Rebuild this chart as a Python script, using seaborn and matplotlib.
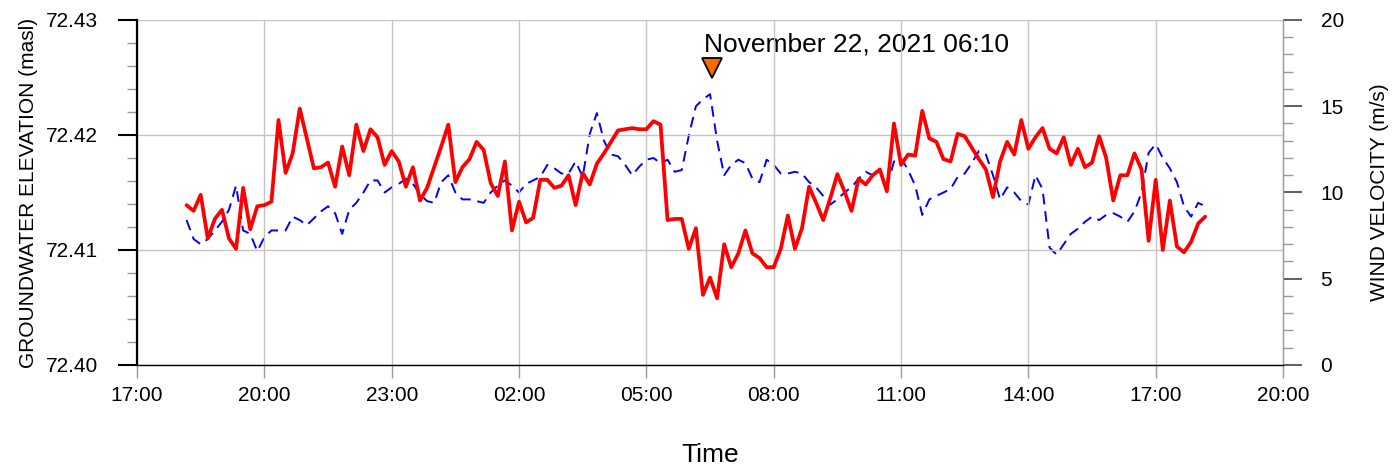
import numpy as np
import pandas as pd
import matplotlib
matplotlib.use("Agg")
import matplotlib.pyplot as plt
import matplotlib.dates as mdates
import seaborn as sns
from matplotlib.ticker import MultipleLocator, FormatStrFormatter

# 10-minute readings, Nov 21 18:10 -> Nov 22 18:10
times = pd.date_range("2021-11-21 18:10", periods=145, freq="10min")

groundwater = [
    72.4139, 72.4134, 72.4148, 72.4110, 72.4127, 72.4135, 72.4110, 72.4101, 72.4154, 72.4118, 72.4138, 72.4139,
    72.4142, 72.4213, 72.4167, 72.4184, 72.4223, 72.4197, 72.4171, 72.4172, 72.4176, 72.4155, 72.4190, 72.4165,
    72.4209, 72.4186, 72.4205, 72.4198, 72.4174, 72.4186, 72.4177, 72.4155, 72.4172, 72.4143, 72.4154, 72.4172,
    72.4190, 72.4209, 72.4159, 72.4172, 72.4179, 72.4194, 72.4187, 72.4158, 72.4147, 72.4177, 72.4117, 72.4142,
    72.4124, 72.4128, 72.4161, 72.4161, 72.4154, 72.4156, 72.4165, 72.4139, 72.4167, 72.4157, 72.4175, 72.4184,
    72.4194, 72.4204, 72.4205, 72.4206, 72.4205, 72.4205, 72.4212, 72.4209, 72.4126, 72.4127, 72.4127, 72.4101,
    72.4119, 72.4061, 72.4076, 72.4058, 72.4105, 72.4085, 72.4097, 72.4117, 72.4097, 72.4093, 72.4085, 72.4085,
    72.4101, 72.4130, 72.4101, 72.4119, 72.4155, 72.4141, 72.4126, 72.4145, 72.4166, 72.4151, 72.4134, 72.4162,
    72.4157, 72.4165, 72.4170, 72.4151, 72.4210, 72.4174, 72.4183, 72.4182, 72.4221, 72.4197, 72.4194, 72.4179,
    72.4177, 72.4201, 72.4199, 72.4189, 72.4179, 72.4170, 72.4146, 72.4177, 72.4194, 72.4183, 72.4213, 72.4188,
    72.4198, 72.4206, 72.4188, 72.4184, 72.4198, 72.4174, 72.4188, 72.4172, 72.4176, 72.4199, 72.4180, 72.4143,
    72.4165, 72.4165, 72.4184, 72.4170, 72.4108, 72.4161, 72.4100, 72.4143, 72.4103, 72.4098, 72.4107, 72.4123,
    72.4129,
]

wind = [
    8.4, 7.3, 7.0, 7.3, 7.8, 8.3, 9.0, 10.4, 7.8, 7.6, 6.6, 7.4,
    7.8, 7.8, 7.8, 8.6, 8.4, 8.1, 8.5, 8.9, 9.2, 8.8, 7.6, 9.0,
    9.4, 10.0, 10.7, 10.7, 10.0, 10.3, 10.5, 10.8, 10.5, 9.9, 9.5, 9.4,
    10.6, 11.0, 10.0, 9.6, 9.6, 9.5, 9.4, 10.0, 10.4, 10.7, 10.4, 10.0,
    10.5, 10.7, 10.9, 11.6, 11.4, 11.1, 11.1, 11.8, 10.9, 13.4, 14.6, 13.0,
    12.2, 12.1, 11.6, 11.0, 11.5, 11.9, 12.0, 11.7, 11.9, 11.2, 11.3, 13.3,
    15.0, 15.4, 15.7, 13.0, 11.0, 11.6, 11.9, 11.7, 10.8, 10.6, 11.9, 11.6,
    11.1, 11.1, 11.2, 11.1, 10.6, 10.3, 9.8, 9.3, 9.6, 10.0, 10.3, 10.8,
    11.2, 11.0, 11.3, 10.3, 11.8, 12.0, 11.3, 10.4, 8.7, 9.6, 9.8, 10.0,
    10.2, 10.9, 11.1, 11.7, 12.4, 12.2, 11.0, 9.6, 10.3, 10.0, 9.5, 9.3,
    11.0, 10.2, 6.8, 6.4, 7.0, 7.6, 7.9, 8.3, 8.6, 8.4, 8.7, 8.8,
    8.6, 8.3, 8.9, 10.0, 12.3, 12.8, 12.0, 11.4, 10.6, 9.2, 8.6, 9.4,
    9.2,
]

event_time = pd.Timestamp("2021-11-22 06:33")
event_label = "November 22, 2021 06:10"

sns.set_style("white")
plt.rcParams['font.family'] = ['Liberation Sans', 'DejaVu Sans']
plt.rcParams['text.color'] = 'black'
plt.rcParams['axes.labelcolor'] = 'black'

fig = plt.figure(figsize=(13.94, 4.68), dpi=100)
ax = fig.add_axes([0.0983, 0.2201, 0.8221, 0.7372])
ax2 = ax.twinx()

sns.lineplot(x=times, y=wind, ax=ax2, color="#0000ff", lw=1.4, linestyle=(0, (5.5, 3.5)))
sns.lineplot(x=times, y=groundwater, ax=ax, color="#ff0000", lw=2.7)

# groundwater line drawn above the wind line
ax.set_zorder(ax2.get_zorder() + 1)
ax.patch.set_visible(False)

ax.set_xlim(pd.Timestamp("2021-11-21 17:00"), pd.Timestamp("2021-11-22 20:00"))
ax.xaxis.set_major_locator(mdates.HourLocator(byhour=[2, 5, 8, 11, 14, 17, 20, 23]))
ax.xaxis.set_major_formatter(mdates.DateFormatter("%H:%M"))

ax.set_ylim(72.40, 72.43)
ax.yaxis.set_major_locator(MultipleLocator(0.01))
ax.yaxis.set_minor_locator(MultipleLocator(0.002))
ax.yaxis.set_major_formatter(FormatStrFormatter("%.2f"))
ax2.set_ylim(0, 20)
ax2.yaxis.set_major_locator(MultipleLocator(5))
ax2.yaxis.set_minor_locator(MultipleLocator(1))

ax.grid(True, which="major", color="#c4c4c4", lw=1)
ax2.grid(False)

for s in ["top", "right"]:
    ax.spines[s].set_visible(False)
ax.spines["left"].set_color("black")
ax.spines["left"].set_linewidth(1.6)
ax.spines["bottom"].set_color("black")
ax.spines["bottom"].set_linewidth(1.0)
for s in ["top", "left", "bottom"]:
    ax2.spines[s].set_visible(False)
ax2.spines["right"].set_color("#9a9a9a")
ax2.spines["right"].set_linewidth(1.0)

ax.tick_params(axis="y", which="major", direction="out", length=14, width=1.5, color="black",
               pad=14, labelsize=15, labelcolor="black", left=True)
ax.tick_params(axis="y", which="minor", direction="out", length=7, width=1, color="#9a9a9a", left=True)
ax.tick_params(axis="x", which="major", direction="out", length=9, width=1, color="#9a9a9a",
               pad=6, labelsize=15, labelcolor="black", bottom=True)
ax2.tick_params(axis="y", which="major", direction="out", length=14, width=1.2, color="#444444",
                pad=13, labelsize=15, labelcolor="black", right=True)
ax2.tick_params(axis="y", which="minor", direction="out", length=7, width=1, color="#9a9a9a", right=True)

ax.set_xlabel("Time", fontsize=19, color="black")
ax.xaxis.set_label_coords(0.5, -0.225)
ax.set_ylabel("GROUNDWATER ELEVATION (masl)", fontsize=15, color="black")
ax.yaxis.set_label_coords(-0.086, 0.5)
ax2.set_ylabel("WIND VELOCITY (m/s)", fontsize=15, color="black")
ax2.yaxis.set_label_coords(1.076, 0.5)

ax2.plot([event_time], [17.2], marker="v", ms=15, mfc="#ff6a00", mec="black", mew=1.3, ls="none")
ax2.text(pd.Timestamp("2021-11-22 06:21"), 18.15, event_label, fontsize=19, va="baseline", ha="left",
         color="black")

fig.savefig("out.png", dpi=100)
